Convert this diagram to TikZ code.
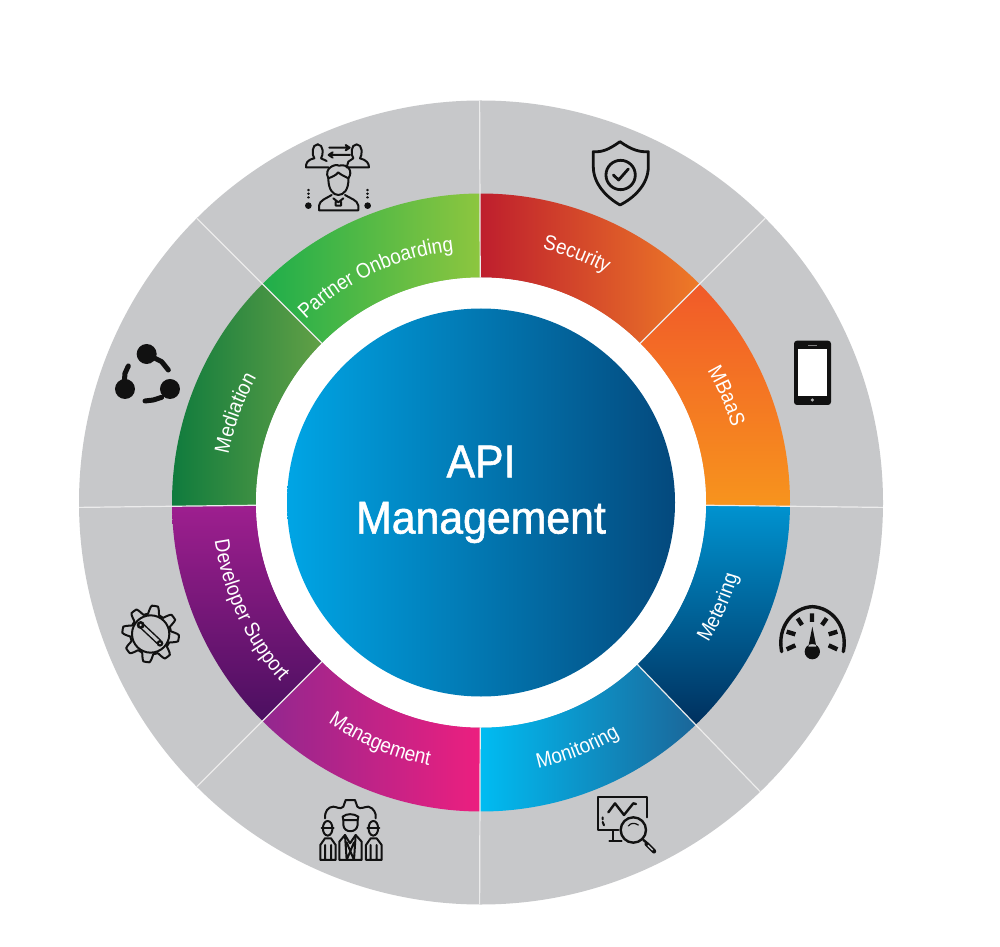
\documentclass[tikz,border=0pt]{standalone}
\usepackage{fontspec}
\usetikzlibrary{decorations.text}
\newfontfamily\titlefont[FakeStretch=0.93,FakeBold=1.2]{Liberation Sans}
\newfontfamily\labelfont[FakeStretch=0.9]{Liberation Sans}
\definecolor{ringgrey}{HTML}{C7C8CA}
\definecolor{dividergrey}{HTML}{ECECEC}
\definecolor{iconblack}{HTML}{111111}
\definecolor{partnerA}{HTML}{1FAE4B}
\definecolor{partnerB}{HTML}{8DC63F}
\definecolor{securityA}{HTML}{BE1E2D}
\definecolor{securityB}{HTML}{EE7A27}
\definecolor{mbaasA}{HTML}{F15A29}
\definecolor{mbaasB}{HTML}{F7941D}
\definecolor{meterA}{HTML}{0093D0}
\definecolor{meterB}{HTML}{00305E}
\definecolor{monitorA}{HTML}{00BCF2}
\definecolor{monitorB}{HTML}{1B6699}
\definecolor{manageA}{HTML}{92278F}
\definecolor{manageB}{HTML}{EC1F7F}
\definecolor{devA}{HTML}{9E1F8F}
\definecolor{devB}{HTML}{4B0F60}
\definecolor{mediaA}{HTML}{0F7B3D}
\definecolor{mediaB}{HTML}{62A046}
\definecolor{coreA}{HTML}{00A5E5}
\definecolor{coreB}{HTML}{006AA5}
\definecolor{coreC}{HTML}{04497D}
\newcommand{\sectorpath}[2]{(#1:309pt) arc[start angle=#1,end angle=#2,radius=309pt] -- (#2:225pt) arc[start angle=#2,end angle=#1,radius=225pt] -- cycle}
\newcommand{\curvedlabel}[4]{\path[decorate,decoration={text along path,text color=white,text align=center,text={|\labelfont\fontsize{21}{21}\selectfont|#4}}] (#1:#3pt) arc[start angle=#1,end angle=#2,radius=#3pt];}
\tikzset{
  icon/.style={draw=iconblack,line width=2pt,line join=round,line cap=round},
  iconheavy/.style={draw=iconblack,line width=3.4pt,line join=round,line cap=round},
  crop/.style={x=0.3333pt,y=-0.3333pt},
  divider/.style={draw=dividergrey,line width=1.2pt}
}
\begin{document}
\begin{tikzpicture}[x=1pt,y=1pt]
\useasboundingbox (0,0) rectangle (1000,946);
\fill[white] (0,0) rectangle (1000,946);
\begin{scope}[shift={(481,443.5)}]
  \fill[ringgrey] (0,0) circle[radius=402pt];
  % coloured ring
  \shade[left color=partnerA,right color=partnerB] \sectorpath{90.2}{135};
  \shade[left color=securityA,right color=securityB] \sectorpath{45}{90.2};
  \shade[top color=mbaasA,bottom color=mbaasB] \sectorpath{-0.7}{45};
  \shade[top color=meterA,bottom color=meterB] \sectorpath{-46}{-0.7};
  \shade[left color=monitorA,right color=monitorB] \sectorpath{-90.2}{-46};
  \shade[left color=manageA,right color=manageB] \sectorpath{-135}{-90.2};
  \shade[top color=devA,bottom color=devB] \sectorpath{180.7}{225};
  \shade[left color=mediaA,right color=mediaB] \sectorpath{135}{180.7};
  % dividers
  \foreach \a in {90.2,45,-0.7,-46,-90.2,-135,180.7,135}
    \draw[divider] (\a:225pt) -- (\a:402pt);
  % centre
  \fill[white] (0,0) circle[radius=225pt];
  \shade[left color=coreA,middle color=coreB,right color=coreC] (0,0) circle[radius=194pt];
  \node[text=white,font=\titlefont\fontsize{46}{46}\selectfont] (apititle) at (0,41) {API};
  \node[text=white,font=\titlefont\fontsize{46}{46}\selectfont] (mgmttitle) at (0,-20) {Management};
  % labels
  \curvedlabel{152.5}{77.5}{253}{Partner Onboarding}
  \curvedlabel{106.4}{31.4}{261}{Security}
  \curvedlabel{61}{-14}{262}{MBaaS}
  \curvedlabel{-61.3}{13.7}{267}{Metering}
  \curvedlabel{-108.6}{-28.6}{272}{Monitoring}
  \curvedlabel{-153}{-73}{268}{Management}
  \curvedlabel{160}{250}{269}{Developer Support}
  \curvedlabel{200}{120}{257}{Mediation}
\end{scope}
% Shield
\begin{scope}[shift={(280,826)},crop]
  \draw[iconheavy,line width=2.8pt] (1020,65) .. controls (985,90) and (965,97) .. (940,95) -- (940,140) .. controls (940,195) and (985,235) .. (1020,255) .. controls (1060,235) and (1105,195) .. (1105,140) -- (1105,95) .. controls (1080,97) and (1055,90) .. (1020,65) -- cycle;
  \draw[iconheavy,line width=2.8pt] (1022,165) circle[radius=44];
  \draw[iconheavy,line width=2.8pt] (1000,165) -- (1016,180) -- (1045,147);
\end{scope}
% Partner onboarding
\begin{scope}[shift={(295,811)},crop]
  \draw[icon] (68,28) .. controls (50,28) and (50,60) .. (58,70) .. controls (35,75) and (33,85) .. (33,97) -- (100,97);
  \draw[icon] (68,28) .. controls (86,28) and (86,60) .. (78,70) -- (95,78);
  \draw[icon] (185,28) .. controls (167,28) and (167,60) .. (175,70) -- (160,80) -- (155,97) -- (222,97) .. controls (222,85) and (215,75) .. (195,70) .. controls (203,60) and (203,28) .. (185,28);
  \draw[icon] (103,38) -- (162,38) (152,30) -- (164,38) -- (152,46);
  \draw[icon] (165,60) -- (103,60) (113,52) -- (101,60) -- (113,68);
  \draw[icon] (100,130) .. controls (85,100) and (120,85) .. (132,92) .. controls (160,85) and (175,110) .. (160,130);
  \draw[icon] (100,130) .. controls (100,165) and (115,180) .. (130,180) .. controls (145,180) and (162,165) .. (160,130) .. controls (145,122) and (135,118) .. (130,112) .. controls (122,122) and (112,125) .. (100,130);
  \draw[icon] (72,226) -- (190,226) -- (190,212) .. controls (188,195) and (165,190) .. (150,180) (72,226) -- (72,212) .. controls (74,195) and (95,190) .. (110,180);
  \draw[icon] (115,190) -- (130,202) -- (145,190) (122,200) -- (122,212) -- (138,212) -- (138,200);
  \foreach \cx in {40,218}{
    \draw[icon,line width=2.4pt,dash pattern=on 0.1pt off 3.6pt] (\cx,165) -- (\cx,196);
    \fill[iconblack] (\cx,212) circle[radius=10];
  }
\end{scope}
% Mediation
\begin{scope}[shift={(90,626)},crop]
  \fill[iconblack] (170,102) circle[radius=30] (105,207) circle[radius=30] (240,207) circle[radius=30];
  \draw[iconheavy,line width=5pt] (195,115) -- (215,125) -- (235,150);
  \draw[iconheavy,line width=5pt] (103,185) -- (105,160) -- (115,138);
  \draw[iconheavy,line width=5pt] (215,232) -- (190,240) -- (165,243);
\end{scope}
% Phone
\begin{scope}[shift={(770,616)},crop]
  \fill[iconblack,rounded corners=3pt] (72,32) rectangle (183,225);
  \fill[white] (83,56) rectangle (172,198);
  \draw[gray,line width=0.8pt] (115,46) -- (140,46);
  \fill[gray!60] (127,210) circle[radius=5];
\end{scope}
% Gauge
\begin{scope}[shift={(760,356)},crop]
  \draw[iconheavy] (65,185) .. controls (50,110) and (100,52) .. (157,50) .. controls (215,52) and (265,110) .. (250,185);
  \draw[iconheavy,line width=4.4pt,line cap=butt] (156,70) -- (156,96) (113,85) -- (126,105) (200,85) -- (186,105) (80,125) -- (106,133) (232,125) -- (206,133) (80,178) -- (106,166) (232,178) -- (206,166);
  \fill[iconblack] (157,110) -- (145,170) -- (169,170) -- cycle (157,185) circle[radius=23];
\end{scope}
% Monitoring
\begin{scope}[shift={(580,166)},crop]
  \draw[icon] (115,150) -- (55,150) -- (55,50) -- (200,50) -- (200,112);
  \draw[icon] (100,152) -- (100,180) (88,182) -- (125,182);
  \draw[icon,line width=2.4pt] (85,97) -- (105,70) -- (132,105) -- (160,70) -- (168,72);
  \draw[icon] (68,112) -- (68,118) (68,126) -- (72,136);
  \draw[icon,line width=2.4pt] (160,150) circle[radius=38];
  \draw[icon,line width=1.2pt] (145,138) .. controls (152,128) and (165,128) .. (175,135);
  \draw[icon,line width=2.4pt] (190,180) -- (200,188);
  \draw[iconheavy,line width=4.4pt] (200,192) -- (222,214);
  \draw[ringgrey,line width=1.4pt,line cap=round] (204,196) -- (218,210);
\end{scope}
% Management people
\begin{scope}[shift={(305,161)},crop]
  \draw[icon] (60,100) .. controls (58,80) and (70,65) .. (85,65) .. controls (95,65) and (105,75) .. (115,65) -- (122,45) -- (150,45) -- (157,65) .. controls (165,75) and (178,65) .. (190,65) .. controls (205,68) and (215,85) .. (212,100);
  \draw[icon] (113,95) .. controls (125,85) and (145,85) .. (160,95) -- (158,105) -- (115,105) -- cycle;
  \draw[icon] (115,105) -- (115,120) .. controls (117,145) and (155,145) .. (158,120) -- (158,105);
  \draw[icon] (103,225) -- (103,170) -- (120,150) -- (135,175) -- (152,150) -- (170,170) -- (170,225) -- cycle;
  \draw[icon] (120,150) -- (125,225) (152,150) -- (147,225) (125,172) -- (147,225) (147,172) -- (125,225);
  \draw[icon] (68,108) .. controls (50,108) and (48,150) .. (68,152) .. controls (88,150) and (86,108) .. (68,108) -- cycle;
  \draw[icon] (50,128) -- (86,128);
  \draw[icon] (46,225) -- (46,180) -- (60,160) -- (78,160) -- (92,180) -- (92,225) -- cycle (60,180) -- (60,225) (78,180) -- (78,225);
  \draw[icon] (205,108) .. controls (187,108) and (185,150) .. (205,152) .. controls (225,150) and (223,108) .. (205,108) -- cycle;
  \draw[icon] (187,128) -- (223,128);
  \draw[icon] (183,225) -- (183,180) -- (197,160) -- (215,160) -- (230,180) -- (230,225) -- cycle (197,180) -- (197,225) (215,180) -- (215,225);
\end{scope}
% Developer support gear
\begin{scope}[shift={(110,351)},crop]
  \draw[icon] plot[smooth,samples=145,domain=0:360] ({122+(73+12*max(-1,min(1,1.7*sin(8*\x+22))))*cos(\x)},{117+(73+12*max(-1,min(1,1.7*sin(8*\x+22))))*sin(\x)}) -- cycle;
  \draw[icon] (122,117) circle[radius=56];
  \draw[iconblack,line width=6pt,line cap=round] (98,95) -- (146,140);
  \draw[ringgrey,line width=3pt,line cap=round] (98,95) -- (146,140);
  \fill[iconblack] (92,90) circle[radius=12] (150,145) circle[radius=10];
  \fill[ringgrey] (92,90) circle[radius=4] (150,145) circle[radius=3];
\end{scope}
\end{tikzpicture}
\end{document}
